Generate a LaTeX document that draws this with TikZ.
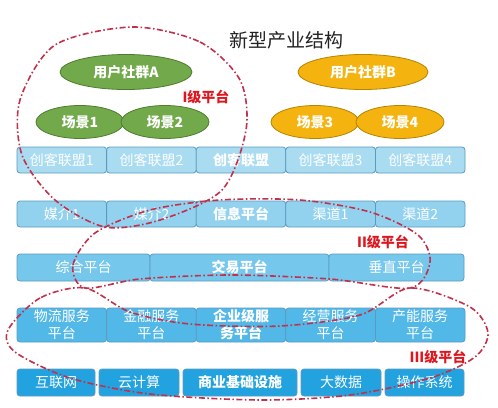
\documentclass[tikz,border=0pt]{standalone}
\usepackage{fontspec}
\setmainfont{Noto Sans CJK SC}
\usepackage{tikz}
\usetikzlibrary{positioning,shapes.geometric}
\definecolor{ink}{HTML}{222222}
\definecolor{edge}{HTML}{5B9BC0}
\definecolor{tierone}{HTML}{A9DBF1}
\definecolor{tiertwo}{HTML}{92D2EF}
\definecolor{tierthree}{HTML}{76C7EC}
\definecolor{tierfour}{HTML}{52B8E7}
\definecolor{tierfive}{HTML}{22A2DE}
\definecolor{leaf}{HTML}{72A94A}
\definecolor{leafline}{HTML}{4E7D30}
\definecolor{amber}{HTML}{F4B30E}
\definecolor{amberline}{HTML}{B58400}
\definecolor{ring}{HTML}{C2304B}
\definecolor{alert}{HTML}{E0161E}
\tikzset{
  tier/.style={draw=edge,line width=0.8pt,rounded corners=3pt,inner sep=0pt,outer sep=0pt,
    align=center,text=white,font=\fontsize{14}{17}\selectfont,minimum width=89.6pt,minimum height=26pt},
  tone/.style={tier,fill=tierone},
  ttwo/.style={tier,fill=tiertwo},
  tthree/.style={tier,fill=tierthree,minimum height=27pt},
  tfour/.style={tier,fill=tierfour,minimum height=34pt},
  tfive/.style={tier,fill=tierfive,minimum height=27pt},
  hub/.style={font=\bfseries\fontsize{14}{17}\selectfont},
  group/.style={ellipse,line width=0.8pt,inner sep=0pt,minimum width=88pt,minimum height=33pt,
    text=white,font=\bfseries\fontsize{14}{17}\selectfont},
  greenset/.style={group,fill=leaf,draw=leafline},
  goldset/.style={group,fill=amber,draw=amberline},
  ring/.style={draw=ring,line width=1.6pt,dash pattern=on 6pt off 2.5pt on 1.5pt off 2.5pt},
  level/.style={text=alert,font=\bfseries\fontsize{14}{17}\selectfont}
}
\begin{document}
\begin{tikzpicture}[x=1pt,y=-1pt,node distance=0pt]
  \useasboundingbox[fill=white] (0,0) rectangle (498,407);
  \node[font=\fontsize{19}{22}\selectfont,text=ink] (title) at (286,40) {新型产业结构};

  \node[greenset,minimum width=132pt,minimum height=35pt] (ca) at (126,72) {用户社群A};
  \node[greenset] (s1) at (80,122) {场景1};
  \node[greenset] (s2) at (165,122) {场景2};
  \node[goldset,minimum width=130pt,minimum height=35pt] (cb) at (363,72) {用户社群B};
  \node[goldset] (s3) at (315,122) {场景3};
  \node[goldset] (s4) at (400,122) {场景4};

  \node[tone,anchor=west] (u1) at (17,160) {创客联盟1};
  \node[tone,right=of u1] (u2) {创客联盟2};
  \node[tone,hub,right=of u2] (u3) {创客联盟};
  \node[tone,right=of u3] (u4) {创客联盟3};
  \node[tone,right=of u4] (u5) {创客联盟4};

  \node[ttwo,anchor=west] (m1) at (17,214) {媒介1};
  \node[ttwo,right=of m1] (m2) {媒介2};
  \node[ttwo,hub,right=of m2] (m3) {信息平台};
  \node[ttwo,right=of m3] (m4) {渠道1};
  \node[ttwo,right=of m4] (m5) {渠道2};

  \node[tthree,anchor=west,minimum width=133pt] (p1) at (17,267.5) {综合平台};
  \node[tthree,hub,right=of p1,minimum width=179pt] (p2) {交易平台};
  \node[tthree,right=of p2,minimum width=135pt] (p3) {垂直平台};

  \node[tfour,anchor=west] (f1) at (17,325) {物流服务\\平台};
  \node[tfour,right=of f1] (f2) {金融服务\\平台};
  \node[tfour,hub,right=of f2] (f3) {企业级服\\务平台};
  \node[tfour,right=of f3] (f4) {经营服务\\平台};
  \node[tfour,right=of f4] (f5) {产能服务\\平台};

  \node[tfive,anchor=west,minimum width=78pt] (b1) at (17,382.5) {互联网};
  \node[tfive,right=4pt of b1,minimum width=80pt] (b2) {云计算};
  \node[tfive,hub,right=4pt of b2,minimum width=114pt] (b3) {商业基础设施};
  \node[tfive,right=4pt of b3,minimum width=80pt] (b4) {大数据};
  \node[tfive,right=4pt of b4,minimum width=79pt] (b5) {操作系统};

  \draw[ring] plot[smooth cycle] coordinates {(132,27) (200,42) (240,80) (246,130) (222,190)
    (160,220) (105,227) (55,200) (22,155) (20,100) (55,45)};
  \draw[ring] plot[smooth cycle] coordinates {(85,288) (73,265) (95,233) (150,210) (220,200)
    (300,200) (370,212) (418,235) (430,262) (410,288) (330,279) (230,275) (140,279)};
  \draw[ring] plot[smooth cycle] coordinates {(85,288) (40,298) (8,330) (15,352) (70,378)
    (150,394) (260,400) (350,395) (430,378) (475,357) (488,333) (470,307) (410,288)
    (360,315) (280,326) (190,324) (130,312)};

  \node[level] (l1) at (206,97) {I级平台};
  \node[level] (l2) at (383,242) {II级平台};
  \node[level] (l3) at (438,357) {III级平台};
\end{tikzpicture}
\end{document}
